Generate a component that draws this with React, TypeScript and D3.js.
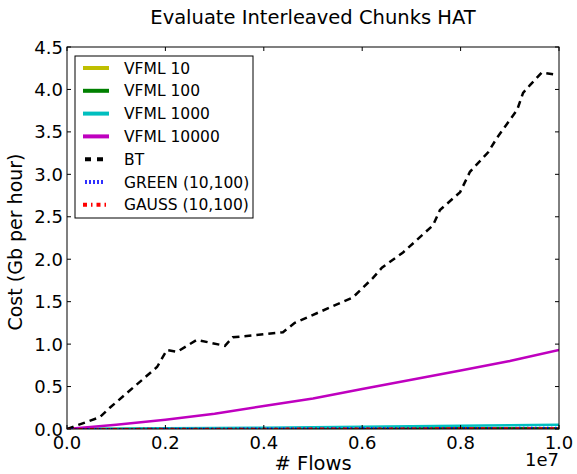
import React from "react";
import * as d3 from "d3";

const W = 577, H = 474;
const M = { left: 67, right: 559, top: 47, bottom: 429 };

const xTicks = [0, 0.2e7, 0.4e7, 0.6e7, 0.8e7, 1.0e7];
const xTickLabels = ["0.0", "0.2", "0.4", "0.6", "0.8", "1.0"];
const yTicks = [0, 0.5, 1.0, 1.5, 2.0, 2.5, 3.0, 3.5, 4.0, 4.5];
const yTickLabels = ["0.0", "0.5", "1.0", "1.5", "2.0", "2.5", "3.0", "3.5", "4.0", "4.5"];

const flowsRegular = [0, 1e6, 2e6, 3e6, 4e6, 5e6, 6e6, 7e6, 8e6, 9e6, 10e6];
const vfml10 = [0, 0.0005, 0.001, 0.0015, 0.002, 0.0025, 0.003, 0.0035, 0.004, 0.0045, 0.005];
const vfml100 = [0, 0.001, 0.002, 0.003, 0.004, 0.005, 0.006, 0.007, 0.008, 0.009, 0.01];
const vfml1000 = [0, 0.004, 0.008, 0.012, 0.016, 0.021, 0.026, 0.031, 0.037, 0.043, 0.05];
const vfml10000 = [0, 0.05, 0.11, 0.18, 0.27, 0.36, 0.47, 0.58, 0.69, 0.8, 0.93];
const green = [0, 0.001, 0.002, 0.004, 0.005, 0.007, 0.008, 0.01, 0.012, 0.013, 0.015];
const gauss = [0, 0.001, 0.002, 0.003, 0.004, 0.005, 0.006, 0.007, 0.008, 0.009, 0.01];

const btFlows = [0, 0.67e6, 0.87e6, 1.83e6, 2.03e6, 2.24e6, 2.64e6, 3.21e6, 3.37e6, 4.39e6, 4.63e6, 5.81e6, 6.22e6, 6.4e6, 6.83e6, 7.44e6, 7.58e6, 7.99e6, 8.19e6, 8.56e6, 8.74e6, 9.15e6, 9.27e6, 9.41e6, 9.65e6, 9.88e6];
const btCost = [0, 0.14, 0.25, 0.73, 0.93, 0.91, 1.05, 0.98, 1.08, 1.14, 1.25, 1.55, 1.78, 1.9, 2.08, 2.4, 2.58, 2.79, 3.03, 3.26, 3.43, 3.76, 3.96, 4.05, 4.2, 4.18];

const seriesNames = ["VFML 10", "VFML 100", "VFML 1000", "VFML 10000", "BT", "GREEN (10,100)", "GAUSS (10,100)"];
const seriesColors = ["#bfbf00", "#008000", "#00bfbf", "#bf00bf", "#000000", "#0000ff", "#ff0000"];
const seriesDash = ["", "", "", "", "7,5", "1.5,2.5", "4,3,1.5,3"];

const FONT = "DejaVu Sans, sans-serif";

export default function App() {
  const x = d3.scaleLinear().domain([0, 1e7]).range([M.left, M.right]);
  const y = d3.scaleLinear().domain([0, 4.5]).range([M.bottom, M.top]);
  const line = d3.line<[number, number]>().x(d => x(d[0])).y(d => y(d[1]));

  const regular = [vfml10, vfml100, vfml1000, vfml10000];
  const paths: { d: string; i: number }[] = [];
  regular.forEach((vals, i) => {
    paths.push({ d: line(flowsRegular.map((f, k) => [f, vals[k]]))!, i });
  });
  paths.push({ d: line(btFlows.map((f, k) => [f, btCost[k]]))!, i: 4 });
  paths.push({ d: line(flowsRegular.map((f, k) => [f, green[k]]))!, i: 5 });
  paths.push({ d: line(flowsRegular.map((f, k) => [f, gauss[k]]))!, i: 6 });

  const legX = 75, legY = 56, legW = 178, legH = 162, rowH = 22.8;

  return (
    <svg width={W} height={H} style={{ position: "absolute", left: 0, top: 0, background: "#fff" }} fontFamily={FONT}>
      <rect x={0} y={0} width={W} height={H} fill="#fff" />
      <text x={(M.left + M.right) / 2} y={24} textAnchor="middle" fontSize={19.5}>Evaluate Interleaved Chunks HAT</text>
      <defs>
        <clipPath id="plot">
          <rect x={M.left} y={M.top} width={M.right - M.left} height={M.bottom - M.top} />
        </clipPath>
      </defs>
      <g clipPath="url(#plot)">
        {paths.map(p => (
          <path key={p.i} d={p.d} fill="none" stroke={seriesColors[p.i]} strokeWidth={p.i === 5 || p.i === 6 ? 2 : 2.5}
            strokeDasharray={seriesDash[p.i] || undefined} />
        ))}
      </g>
      <rect x={M.left} y={M.top} width={M.right - M.left} height={M.bottom - M.top} fill="none" stroke="#000" strokeWidth={1} />
      {xTicks.map((t, i) => (
        <g key={"x" + i}>
          <line x1={x(t)} x2={x(t)} y1={M.bottom} y2={M.bottom - 4} stroke="#000" />
          <line x1={x(t)} x2={x(t)} y1={M.top} y2={M.top + 4} stroke="#000" />
          <text x={x(t)} y={449} textAnchor="middle" fontSize={18}>{xTickLabels[i]}</text>
        </g>
      ))}
      {yTicks.map((t, i) => (
        <g key={"y" + i}>
          <line x1={M.left} x2={M.left + 4} y1={y(t)} y2={y(t)} stroke="#000" />
          <line x1={M.right} x2={M.right - 4} y1={y(t)} y2={y(t)} stroke="#000" />
          <text x={63} y={y(t) + 6.5} textAnchor="end" fontSize={18}>{yTickLabels[i]}</text>
        </g>
      ))}
      <text x={559} y={466} textAnchor="end" fontSize={18}>1e7</text>
      <text x={(M.left + M.right) / 2} y={470} textAnchor="middle" fontSize={19.5}># Flows</text>
      <text transform={`translate(22,${(M.top + M.bottom) / 2 + 4}) rotate(-90)`} textAnchor="middle" fontSize={19}>Cost (Gb per hour)</text>
      <rect x={legX} y={legY} width={legW} height={legH} fill="#fff" stroke="#000" strokeWidth={1} />
      {seriesNames.map((n, i) => {
        const cy = legY + 12 + i * rowH;
        return (
          <g key={"l" + i}>
            <line x1={i === 5 ? 85 : 83} x2={i === 5 ? 104 : 109} y1={cy} y2={cy} stroke={i === 5 ? "#3030ff" : seriesColors[i]} strokeWidth={4}
              strokeDasharray={i === 4 ? "6,6" : i === 5 ? "2,2" : i === 6 ? "4,4,1.5,4" : undefined} strokeDashoffset={i === 4 ? -2 : 0} />
            <text x={124} y={cy + 5.5} fontSize={15.5}>{n}</text>
          </g>
        );
      })}
    </svg>
  );
}
